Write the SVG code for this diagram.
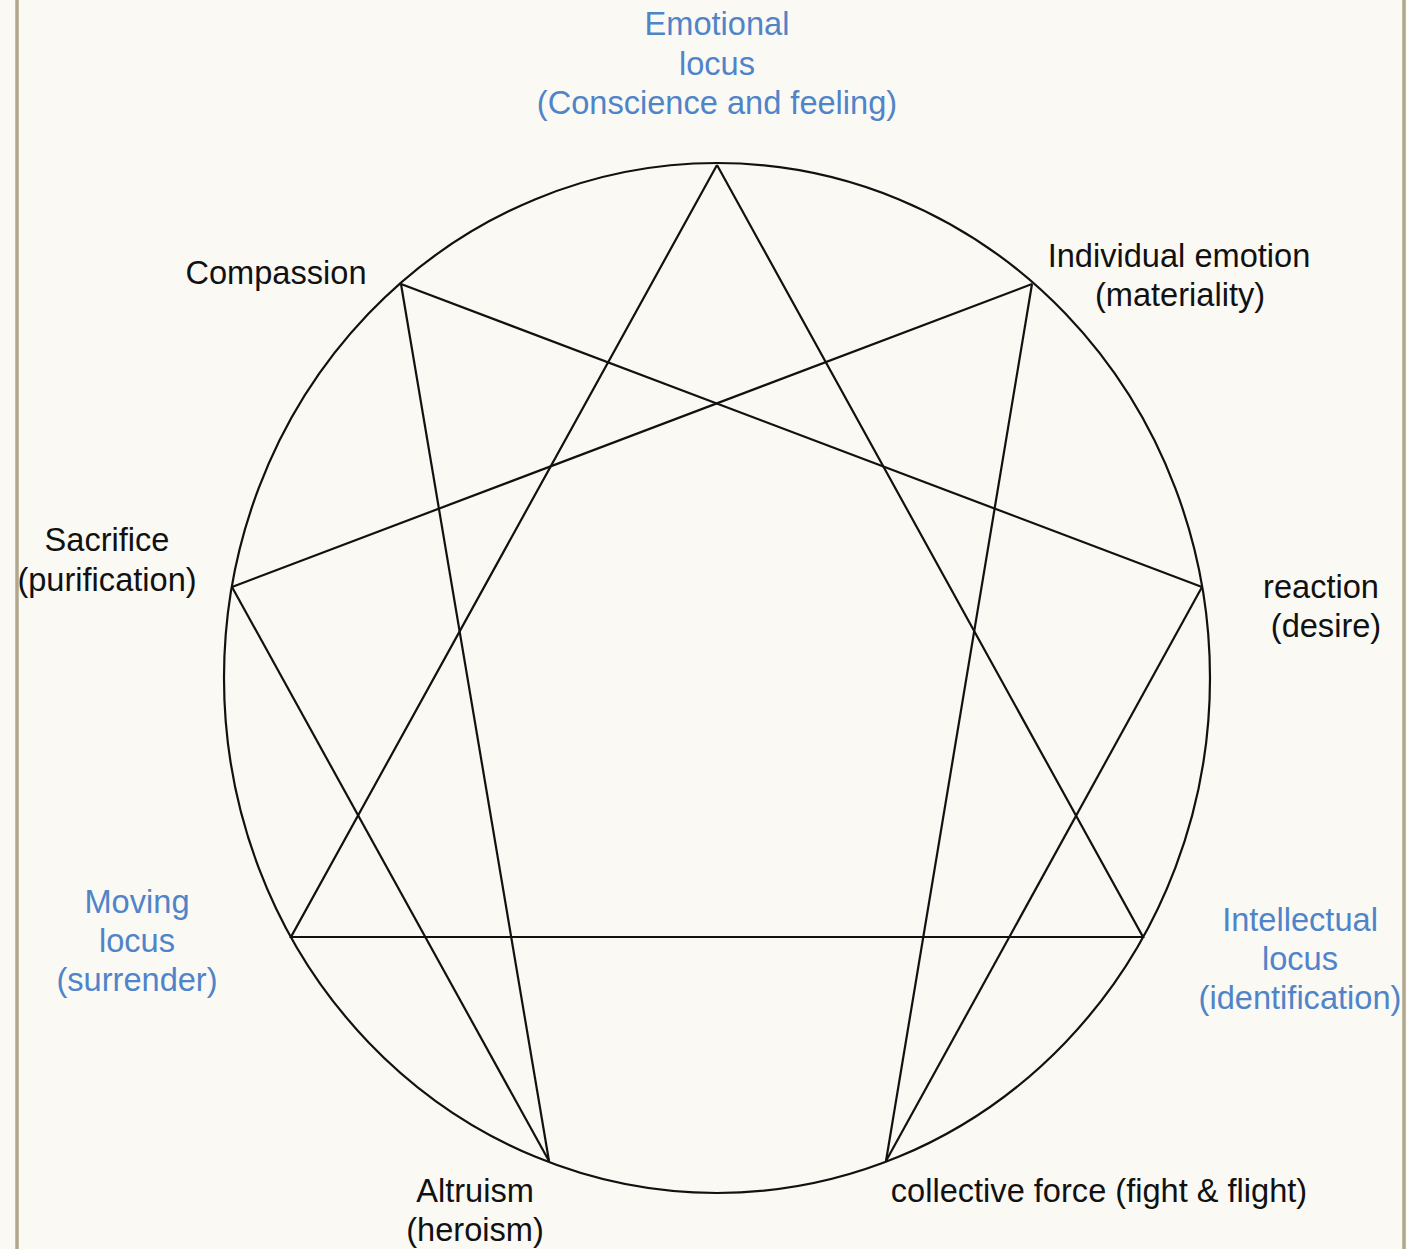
<svg xmlns="http://www.w3.org/2000/svg" width="1407" height="1249" viewBox="0 0 1407 1249">
<style>
.t{font-family:"Liberation Sans",Arial,sans-serif;font-size:32.6px;fill:#111;text-anchor:middle}
.b{fill:#4f84c9}
.ln{stroke:#111;stroke-width:2.2;fill:none}
.edge{stroke:#b0a78e;stroke-width:3.5}
</style>
<rect x="0" y="0" width="1407" height="1249" fill="#fbf9f4"/>
<line class="edge" x1="17" y1="0" x2="17" y2="1249"/>
<line class="edge" x1="1404" y1="0" x2="1404" y2="1249"/>
<g id="circle"><ellipse class="ln" cx="717" cy="678" rx="493" ry="515"/></g>
<g id="connectors">
<polyline class="ln" points="717,165 1143,937 291,937 717,165"/>
<line class="ln" x1="401" y1="284" x2="1202" y2="587"/>
<line class="ln" x1="401" y1="284" x2="549" y2="1161"/>
<line class="ln" x1="1032" y1="284" x2="232" y2="587"/>
<line class="ln" x1="1032" y1="284" x2="886" y2="1161"/>
<line class="ln" x1="1202" y1="587" x2="886" y2="1161"/>
<line class="ln" x1="232" y1="587" x2="549" y2="1161"/>
</g>
<g id="emotional"><text class="t b" x="717" y="35">Emotional</text><text class="t b" x="717" y="75">locus</text><text class="t b" x="717" y="114">(Conscience and feeling)</text></g>
<g id="compassion"><text class="t" x="276" y="284">Compassion</text></g>
<g id="individual"><text class="t" x="1179" y="267">Individual emotion</text><text class="t" x="1180" y="306">(materiality)</text></g>
<g id="sacrifice"><text class="t" x="107" y="551">Sacrifice</text><text class="t" x="107" y="591">(purification)</text></g>
<g id="reaction"><text class="t" x="1321" y="598">reaction</text><text class="t" x="1326" y="637">(desire)</text></g>
<g id="moving"><text class="t b" x="137" y="913">Moving</text><text class="t b" x="137" y="952">locus</text><text class="t b" x="137" y="991">(surrender)</text></g>
<g id="intellectual"><text class="t b" x="1300" y="931">Intellectual</text><text class="t b" x="1300" y="970">locus</text><text class="t b" x="1300" y="1009">(identification)</text></g>
<g id="altruism"><text class="t" x="475" y="1202">Altruism</text><text class="t" x="475" y="1241">(heroism)</text></g>
<g id="collective"><text class="t" x="1099" y="1202">collective force (fight &amp; flight)</text></g>
</svg>
